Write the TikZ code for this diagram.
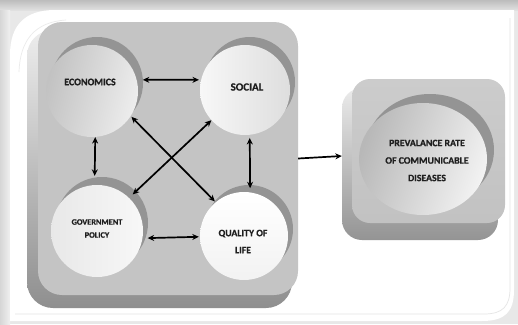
\documentclass[tikz,border=0pt]{standalone}
\usepackage{fontspec}
\setmainfont{Carlito}
\newfontfamily\lblfont{Carlito}[UprightFont={* Bold}, FakeBold=0.8]
\usetikzlibrary{arrows.meta,calc}
\begin{document}
\begin{tikzpicture}[x=1pt,y=-1pt,
  tip/.tip={Stealth[length=6.5pt,width=6pt]},
  conn/.style={line width=1.7pt, black, {tip}-{tip}},
  oneway/.style={line width=1.7pt, black, -{tip}},
  ball/.style={circle, inner sep=0pt, minimum size=#1},
  crescent/.style={fill=black!42},
  slab/.style={rounded corners=#1, inner sep=0pt},
  lbl/.style={text=black!88, align=center, inner sep=0pt}
]
\useasboundingbox (0,0) rectangle (518,324);
% page background and frame
\fill[black!9] (0,0) rectangle (518,324);
\shade[top color=black!26, bottom color=black!12] (0,0) rectangle (518,10);
\shade[left color=black!16, right color=black!6] (0,10) rectangle (10,324);
\fill[white] (10,321) -- (10,55) .. controls (10,25) and (25,10) .. (55,10) -- (514,10) -- (514,290) .. controls (514,312) and (505,321) .. (482,321) -- cycle;
\draw[black!10, line width=0.7pt] (15,314) -- (484,314) .. controls (503,314) and (510,306) .. (510,288) -- (510,18);
\draw[black!8, line width=0.7pt] (19,72) .. controls (20,40) and (35,22) .. (66,20);
% left system block
\node[slab=26pt, minimum width=265pt, minimum height=278pt,
      top color=black!7, middle color=black!16, bottom color=black!44] (sysbase) at (159.5,169) {};
\node[slab=24pt, minimum width=260pt, minimum height=273pt, fill=black!23] (sys) at (168,158.5) {};
% right block
\node[slab=20pt, minimum width=156pt, minimum height=152pt,
      top color=black!8, middle color=black!17, bottom color=black!42] (prevbase) at (420,164) {};
\node[slab=18pt, minimum width=153pt, minimum height=144pt,
      top color=black!20, bottom color=black!24] (prev) at (428.5,151) {};
% crescents
\fill[crescent] (97,83) circle[radius=46];
\fill[crescent] (250,82) circle[radius=45];
\fill[crescent] (102,223) circle[radius=46];
\fill[crescent] (249,229) circle[radius=44];
\fill[crescent] (430,150) ellipse[x radius=64, y radius=56];
% circle faces
\node[ball=92pt, shading=axis, left color=black!24, right color=black!7, shading angle=75] (econ) at (92,91) {};
\node[ball=90pt, shading=axis, left color=black!3, right color=black!13] (social) at (245,90) {};
\node[ball=92pt, shading=axis, left color=black!9, right color=black!3] (gov) at (97,231) {};
\node[ball=88pt, shading=axis, top color=white, bottom color=black!5] (qol) at (244,236) {};
\shade[left color=black!28, right color=black!5, shading angle=70] (423,159) ellipse[x radius=64, y radius=56];
% labels
\node[lbl, font=\lblfont\fontsize{10}{12}\selectfont] (econt) at (90,82) {ECONOMICS};
\node[lbl, font=\lblfont\fontsize{11}{13}\selectfont] (socialt) at (247,87) {SOCIAL};
\node[lbl, font=\lblfont\fontsize{8.3}{13}\selectfont] (govt) at (97,228.5) {GOVERNMENT\\POLICY};
\node[lbl, font=\lblfont\fontsize{9.8}{17}\selectfont] (qolt) at (243,241.5) {QUALITY OF\\LIFE};
\node[lbl, font=\lblfont\fontsize{9.8}{17.5}\selectfont] (prevt) at (427,160.5) {PREVALANCE RATE\\OF COMMUNICABLE\\DISEASES};
% connectors
\draw[conn, shorten <=6pt, shorten >=2pt] (econ.14) -- (social.167);
\draw[conn, shorten <=5pt, shorten >=1pt] (gov.-9) -- (qol.181);
\draw[conn, shorten >=9pt] (econ.-86) -- (gov.93);
\draw[conn, shorten <=3pt, shorten >=4pt] (social.-84) -- (qol.82);
\draw[conn, shorten <=1pt, shorten >=1pt] (econ.-33) -- (qol.130);
\draw[conn, shorten <=0pt, shorten >=5pt] (social.-138) -- (gov.46);
\draw[oneway] (sys.east) -- ([yshift=8pt]prevbase.west);
\end{tikzpicture}
\end{document}
